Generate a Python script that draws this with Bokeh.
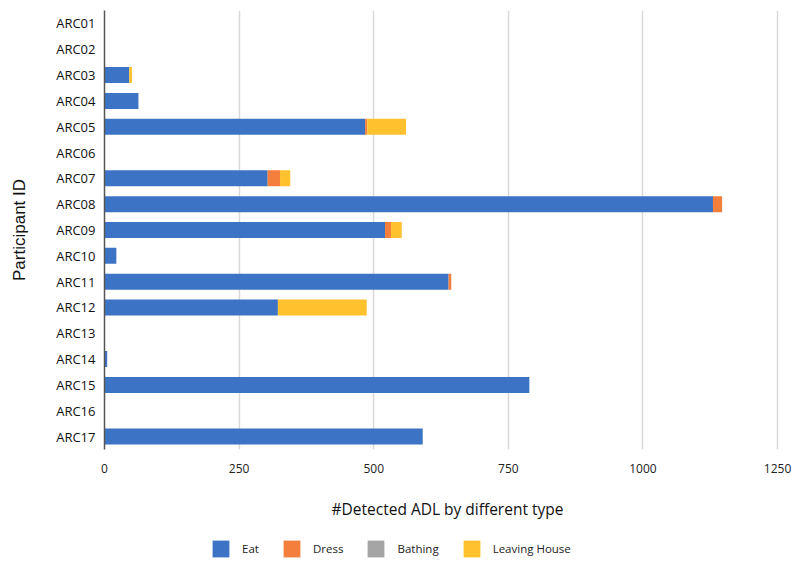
from bokeh.plotting import figure
from bokeh.layouts import column
from bokeh.models import Legend, FixedTicker, ColumnDataSource, Range1d, FactorRange
from bokeh.embed import file_html
from bokeh.resources import INLINE

participants = ["ARC01", "ARC02", "ARC03", "ARC04", "ARC05", "ARC06", "ARC07", "ARC08",
                "ARC09", "ARC10", "ARC11", "ARC12", "ARC13", "ARC14", "ARC15", "ARC16", "ARC17"]
eat = [0, 0, 46, 63, 484, 0, 303, 1130, 521, 22, 639, 322, 0, 5, 789, 0, 591]
dress = [0, 0, 0, 0, 4, 0, 23, 17, 11, 0, 5, 0, 0, 0, 0, 0, 0]
bathing = [0, 0, 0, 0, 0, 0, 0, 0, 0, 0, 0, 0, 0, 0, 0, 0, 0]
leaving_house = [0, 0, 5, 0, 72, 0, 19, 0, 20, 0, 0, 165, 0, 0, 0, 0, 0]
x_ticks = [0, 250, 500, 750, 1000, 1250]

series = ["Eat", "Dress", "Bathing", "Leaving House"]
colors = ["#3C73C4", "#F47F3C", "#A5A5A5", "#FFC12E"]

source = ColumnDataSource(dict(participant=participants, Eat=eat, Dress=dress,
                               Bathing=bathing, **{"Leaving House": leaving_house}))

p = figure(width=792, height=522, output_backend="svg", toolbar_location=None,
           y_range=list(reversed(participants)), x_range=(0, 1274),
           min_border_left=104, min_border_right=2, min_border_top=10,
           min_border_bottom=72)

renderers = p.hbar_stack(series, y="participant", height=0.62, color=colors,
                         source=source, line_width=0)

font = "Open Sans"
p.xaxis.ticker = FixedTicker(ticks=x_ticks)
p.xaxis.axis_line_color = None
p.xaxis.major_tick_line_color = None
p.xaxis.minor_tick_line_color = None
p.xaxis.major_label_text_font = font
p.xaxis.major_label_text_font_size = "12px"
p.xaxis.major_label_text_color = "#222222"
p.xaxis.major_label_standoff = 8
p.xaxis.axis_label = "#Detected ADL by different type"
p.xaxis.axis_label_text_font = font
p.xaxis.axis_label_text_font_style = "normal"
p.xaxis.axis_label_text_font_size = "15.5px"
p.xaxis.axis_label_text_color = "#111111"
p.xaxis.axis_label_standoff = 22

p.yaxis.axis_line_color = "#555555"
p.yaxis.axis_line_width = 1.5
p.yaxis.major_tick_line_color = None
p.yaxis.minor_tick_line_color = None
p.yaxis.major_label_text_font = font
p.yaxis.major_label_text_font_size = "13px"
p.yaxis.major_label_text_color = "#111111"
p.yaxis.major_label_standoff = 3
p.yaxis.axis_label = "Participant ID"
p.yaxis.axis_label_text_font = "Liberation Sans"
p.yaxis.axis_label_text_font_style = "normal"
p.yaxis.axis_label_text_font_size = "17px"
p.yaxis.axis_label_text_color = "#111111"
p.yaxis.axis_label_standoff = 24

p.xgrid.grid_line_color = "#D9D9D9"
p.xgrid.grid_line_width = 1.5
p.ygrid.grid_line_color = None
p.outline_line_color = None

# legend strip below the chart (its bars fall outside its range, so only the legend shows)
lg = figure(width=792, height=40, output_backend="svg", toolbar_location=None,
            x_range=Range1d(0, 1), y_range=FactorRange(factors=["legend"]),
            min_border_left=0, min_border_right=0, min_border_top=0, min_border_bottom=0)
lg.axis.visible = False
lg.grid.visible = False
lg.outline_line_color = None
legend_renderers = lg.hbar_stack(series, y="participant", height=0.62, color=colors,
                                 source=source, line_width=0)

legend = Legend(items=[(s, [r]) for s, r in zip(series, legend_renderers)],
                orientation="horizontal", location=(106, 3),
                label_text_font=font, label_text_font_size="11.5px",
                label_text_color="#222222", glyph_width=21, glyph_height=21,
                label_standoff=11, label_width=17, spacing=22, border_line_color=None,
                background_fill_alpha=0, margin=0, padding=2)
lg.add_layout(legend, "center")

layout = column(p, lg, spacing=0)
open("out.html", "w").write(file_html(layout, INLINE))
